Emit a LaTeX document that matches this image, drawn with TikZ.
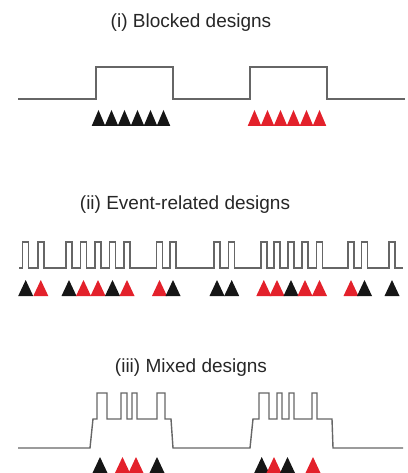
\documentclass[tikz,border=0pt]{standalone}
\usepackage{fontspec}
\setmainfont{Liberation Sans}

\definecolor{sig}{HTML}{666666}
\definecolor{stimA}{HTML}{161616}
\definecolor{stimB}{HTML}{E3212B}

% one stimulus marker: colour, centre x, base y, half width
\newcommand{\stimtri}[4]{%
  \fill[#1] ({#2-#4},#3) -- (#2,{#3-16}) -- ({#2+#4},#3) -- cycle;}

\begin{document}
\begin{tikzpicture}[x=1pt,y=-1pt,
    signal/.style={draw=sig,line width=1.4pt,line join=miter},
    heading/.style={font=\fontsize{19}{22}\selectfont,text=black!85,inner sep=0pt}]
  \useasboundingbox (0,0) rectangle (407,473);

  % (i) blocked
  \node[heading] (blocked) at (191,23) {(i) Blocked designs};
  \draw[signal] (18,99) -- (96,99) -- (96,67) -- (173,67) -- (173,99)
    -- (250,99) -- (250,67) -- (327,67) -- (327,99) -- (405,99);
  \foreach \k in {0,...,5} {
    \stimtri{stimA}{98.5+13*\k}{126}{6.8}
    \stimtri{stimB}{254.5+13*\k}{126}{6.8}
  }

  % (ii) event-related
  \node[heading] (event) at (185,205) {(ii) Event-related designs};
  \draw[signal] (19,268)
    \foreach \x in {25.7,40.8,69,83.5,98,112.5,127,159.5,173,217,231.7,
                    263.8,277,291,305,319.5,351,364.5,392} {
      -- ({\x-3},268) -- ({\x-3},242) -- ({\x+3},242) -- ({\x+3},268)
    } -- (403,268);
  \foreach \x/\c in {25.7/stimA,40.8/stimB,69/stimA,83.5/stimB,98/stimB,
                     112.5/stimA,127/stimB,159.5/stimB,173/stimA,217/stimA,
                     231.7/stimA,263.8/stimB,277/stimB,291/stimA,305/stimB,
                     319.5/stimB,351/stimB,364.5/stimA,392/stimA}
    \stimtri{\c}{\x}{296}{7.5};

  % (iii) mixed
  \node[heading] (mixed) at (191,368) {(iii) Mixed designs};
  \draw[signal] (18,448) -- (90,448) -- (93,419) -- (97,419)
    -- (97,393) -- (107,393) -- (107,419) -- (121,419)
    -- (121,393) -- (127,393) -- (127,419) -- (132,419)
    -- (132,393) -- (137,393) -- (137,419) -- (157,419)
    -- (157,393) -- (165,393) -- (165,419) -- (171,419)
    -- (173,448) -- (250,448) -- (253,419) -- (259,419)
    -- (259,393) -- (269,393) -- (269,419) -- (277,419)
    -- (277,393) -- (282,393) -- (282,419) -- (289,419)
    -- (289,393) -- (294,393) -- (294,419) -- (312,419)
    -- (312,393) -- (317,393) -- (317,419) -- (332,419)
    -- (333,448) -- (403,448);
  \foreach \x/\c in {100/stimA,122.5/stimB,136/stimB,157/stimA,
                     261.7/stimA,274/stimB,287.5/stimA,313/stimB}
    \stimtri{\c}{\x}{473}{7.5};
\end{tikzpicture}
\end{document}
